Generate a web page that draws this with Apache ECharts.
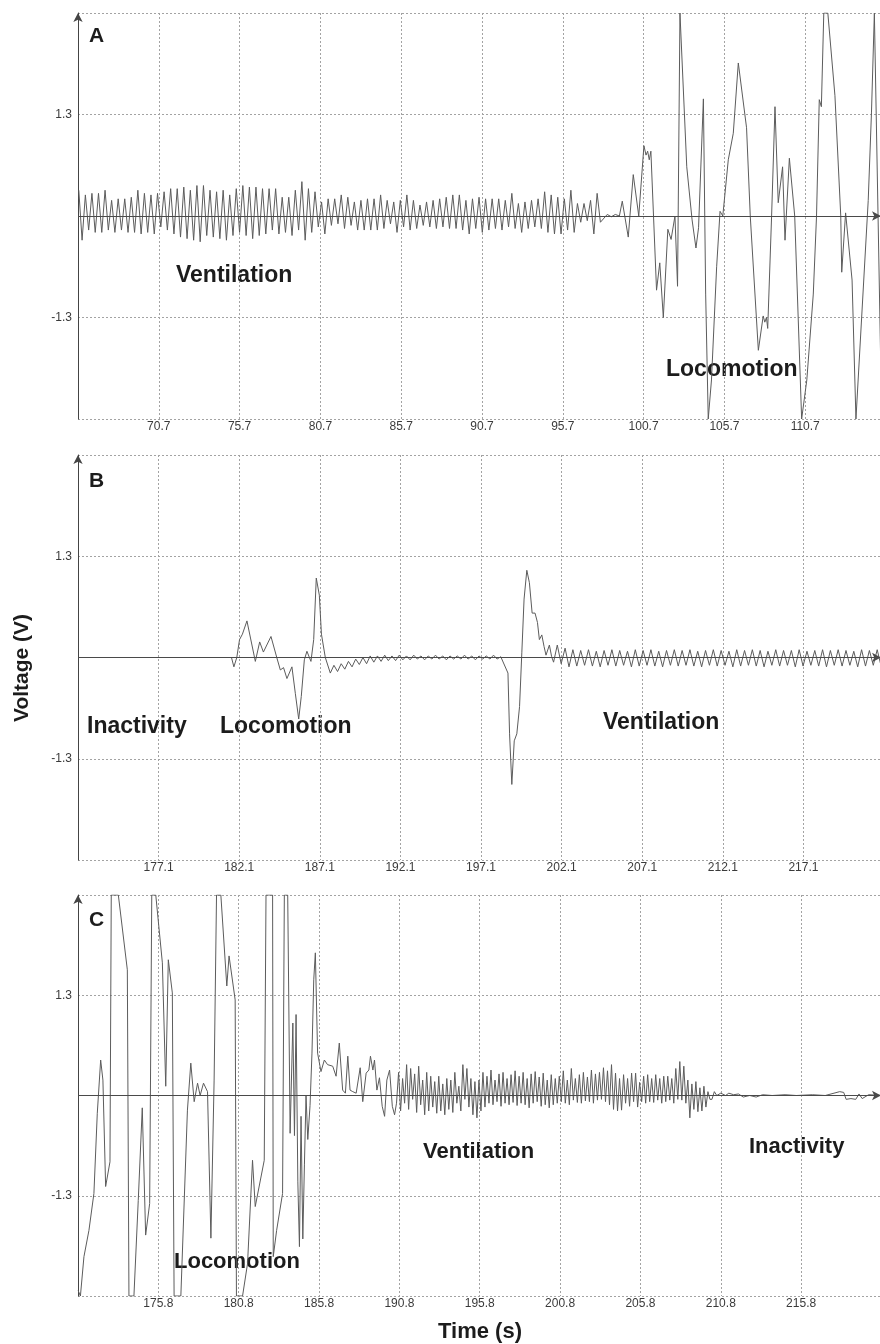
<!DOCTYPE html>
<html>
<head>
<meta charset="utf-8">
<title>Voltage traces</title>
<script src="https://cdn.jsdelivr.net/npm/echarts@6/dist/echarts.min.js"></script>
<style>
  html, body { margin: 0; padding: 0; background: #fff; }
  #chart { width: 880px; height: 1344px; }
</style>
</head>
<body>
<div id="chart"></div>
<script>
  // ---- panel A (65.7 s .. ) ----
  const aStart = 65.7, aSpan = 49.69
  const aVentT0 = 65.75, aVentStep = 0.203
  const aVentPeaks = [
    0.33, 0.27, 0.29, 0.29, 0.33, 0.20, 0.22, 0.22, 0.24, 0.33,
    0.29, 0.27, 0.29, 0.31, 0.35, 0.35, 0.37, 0.33, 0.39, 0.39,
    0.33, 0.31, 0.33, 0.27, 0.35, 0.39, 0.37, 0.37, 0.35, 0.35,
    0.35, 0.24, 0.24, 0.33, 0.44, 0.35, 0.31, 0.18, 0.22, 0.22,
    0.27, 0.24,
    0.18, 0.20, 0.22, 0.22, 0.27, 0.20, 0.18, 0.20, 0.27, 0.20,
    0.14, 0.18, 0.20, 0.22, 0.24, 0.27, 0.27, 0.20, 0.22, 0.24,
    0.22, 0.22, 0.22, 0.20, 0.29, 0.16, 0.18, 0.20, 0.22, 0.31,
    0.27, 0.24, 0.22, 0.33, 0.16, 0.16, 0.20, 0.29
  ]
  const aVentTroughs = [
    -0.31, -0.18, -0.21, -0.21, -0.18, -0.21, -0.18, -0.21, -0.21, -0.23,
    -0.21, -0.23, -0.14, -0.18, -0.23, -0.27, -0.29, -0.31, -0.33, -0.25,
    -0.27, -0.29, -0.31, -0.25, -0.21, -0.25, -0.29, -0.25, -0.23, -0.18,
    -0.23, -0.21, -0.25, -0.18, -0.31, -0.21, -0.14, -0.23, -0.12, -0.10,
    -0.16, -0.12,
    -0.18, -0.18, -0.18, -0.18, -0.16, -0.10, -0.21, -0.14, -0.18, -0.16,
    -0.12, -0.14, -0.16, -0.14, -0.16, -0.16, -0.18, -0.23, -0.16, -0.21,
    -0.18, -0.16, -0.18, -0.14, -0.16, -0.21, -0.16, -0.14, -0.16, -0.21,
    -0.23, -0.23, -0.18, -0.21, -0.08, -0.06, -0.23, -0.08
  ]
  const aLoco = [
    [98.45, 0.02], [98.7, -0.01], [98.95, 0.02], [99.2, 0.0],
    [99.38, 0.19], [99.75, -0.27], [100.06, 0.53], [100.4, 0.0], [100.72, 0.90],
    [100.85, 0.78], [100.95, 0.83], [101.05, 0.72], [101.15, 0.83], [101.5, -0.95],
    [101.7, -0.6], [101.92, -1.30], [102.2, -0.17], [102.4, -0.3], [102.64, 0.0],
    [102.8, -0.9], [102.95, 2.6], [103.37, 0.63], [103.7, -0.05], [103.94, -0.41],
    [104.1, -0.15], [104.4, 1.50], [104.54, -1.0], [104.7, -2.6], [104.9, -2.1],
    [105.22, -0.65], [105.43, 0.06], [105.6, 0.0], [105.94, 0.72], [106.25, 1.06],
    [106.56, 1.96], [107.07, 1.13], [107.3, 0.0], [107.8, -1.72], [108.1, -1.28],
    [108.2, -1.36], [108.3, -1.30], [108.38, -1.44], [108.62, 0.0], [108.83, 1.40],
    [109.03, 0.17], [109.3, 0.63], [109.45, -0.31], [109.72, 0.74], [110.05, 0.0],
    [110.48, -2.6], [110.8, -2.1], [111.2, -1.0], [111.4, 0.0], [111.57, 1.49],
    [111.7, 1.4], [111.85, 2.6], [112.1, 2.6], [112.54, 1.54], [112.9, 0.0],
    [112.96, -0.72], [113.2, 0.04], [113.6, -0.82], [113.84, -2.6], [113.95, -2.6],
    [114.6, 0.2], [114.8, 1.32], [114.98, 2.6], [115.4, -2.2]
  ]

  // ---- panel B (172.1 s .. ) ----
  const bStart = 172.1, bSpan = 49.81
  const bLoco = [
    [172.1, 0.0], [181.62, 0.0], [181.77, -0.12], [181.95, 0.0], [182.12, 0.23],
    [182.3, 0.3], [182.58, 0.47], [182.8, 0.25], [183.1, -0.05], [183.37, 0.2],
    [183.6, 0.07], [184.07, 0.27], [184.43, 0.0], [184.65, -0.16], [184.85, -0.13],
    [185.06, -0.27], [185.37, -0.12], [185.58, -0.46], [185.79, -0.79], [185.95, -0.5],
    [186.14, -0.03], [186.3, 0.08], [186.55, -0.05], [186.72, 0.23], [186.88, 1.02],
    [187.07, 0.8], [187.2, 0.3], [187.44, 0.0]
  ]
  const bRippleT0 = 187.75, bRippleStep = 0.225
  const bRipple = [
    -0.20, -0.10, -0.18, -0.08, -0.15, -0.05, -0.12, -0.02, -0.09, 0.0,
    -0.08, 0.02, -0.06, 0.02, -0.05, 0.03, -0.04, 0.02, -0.04, 0.03,
    -0.03, 0.02, -0.03, 0.03, -0.02, 0.02, -0.03, 0.02, -0.02, 0.03,
    -0.02, 0.02, -0.03, 0.02, -0.02, 0.02, -0.02, 0.03, -0.02, 0.02,
    -0.03, 0.02, -0.02, 0.02, -0.02, 0.03, -0.02, 0.01
  ]
  const bSpike = [
    [198.77, -0.2], [198.87, -0.98], [199.01, -1.63], [199.16, -1.07], [199.32, -0.98],
    [199.49, -0.63], [199.63, 0.06], [199.77, 0.75], [199.94, 1.12], [200.1, 0.96],
    [200.27, 0.57], [200.45, 0.57], [200.6, 0.45], [200.72, 0.23], [200.87, 0.29],
    [201.01, 0.14], [201.13, 0.03], [201.34, 0.16], [201.48, 0.01], [201.6, -0.06]
  ]
  const bVentT0 = 201.83, bVentStep = 0.242
  const bVentPeaks = [
    0.16, 0.12, 0.10, 0.09, 0.10, 0.08, 0.09, 0.10, 0.09, 0.08,
    0.10, 0.09, 0.10, 0.08, 0.09, 0.10, 0.09, 0.10, 0.08, 0.09,
    0.10, 0.09, 0.08, 0.10, 0.09, 0.10, 0.09, 0.08, 0.10, 0.09,
    0.09, 0.10, 0.08, 0.09, 0.10, 0.09, 0.10, 0.09, 0.08, 0.10,
    0.09, 0.10
  ]
  const bVentTroughs = [
    -0.08, -0.12, -0.11, -0.10, -0.11, -0.12, -0.10, -0.11, -0.10, -0.12,
    -0.11, -0.10, -0.11, -0.12, -0.10, -0.11, -0.10, -0.11, -0.12, -0.10,
    -0.11, -0.10, -0.12, -0.11, -0.10, -0.11, -0.12, -0.10, -0.11, -0.10,
    -0.12, -0.11, -0.10, -0.11, -0.12, -0.10, -0.11, -0.10, -0.12, -0.11,
    -0.10, -0.11
  ]

  // ---- panel C (170.8 s .. ) ----
  const cStart = 170.8, cSpan = 49.97
  const cLoco = [
    [170.81, -2.53], [170.95, -2.6], [171.17, -2.09], [171.48, -1.75], [171.79, -1.27],
    [172.0, -0.23], [172.21, 0.46], [172.35, 0.2], [172.52, -1.18], [172.79, -0.86],
    [172.87, 2.6], [173.31, 2.6], [173.87, 1.63], [173.97, -2.6], [174.28, -2.6],
    [174.55, -1.36], [174.8, -0.16], [175.01, -1.81], [175.26, -1.40], [175.39, 2.6],
    [175.64, 2.6], [176.05, 1.72], [176.26, 0.12], [176.42, 1.76], [176.67, 1.33],
    [176.78, -2.6], [177.2, -2.6], [177.61, -0.19], [177.82, 0.42], [178.03, -0.08],
    [178.24, 0.16], [178.4, 0.0], [178.61, 0.16], [178.86, 0.05], [179.07, -1.85],
    [179.27, 0.2], [179.42, 2.6], [179.69, 2.6], [180.06, 1.42], [180.2, 1.81],
    [180.58, 1.24], [180.66, -2.6], [181.04, -2.6], [181.35, -2.18], [181.66, -0.84],
    [181.83, -1.44], [182.39, -0.84], [182.5, 2.6], [182.91, 2.6], [182.95, -2.09],
    [183.16, -1.75], [183.53, -1.27], [183.64, 2.6], [183.85, 2.6], [184.0, -0.49],
    [184.17, 0.94], [184.27, -0.52], [184.37, 1.05], [184.48, -1.12], [184.58, -1.96],
    [184.68, -0.27], [184.79, -1.86], [184.89, -0.9], [184.99, 0.0], [185.1, -0.57],
    [185.24, -0.13], [185.36, 0.55], [185.47, 1.5], [185.57, 1.85], [185.71, 0.55],
    [185.92, 0.31], [186.13, 0.46], [186.33, 0.40], [186.44, 0.40], [186.65, 0.38],
    [186.86, 0.25], [187.06, 0.68], [187.27, 0.07], [187.44, 0.03], [187.59, 0.51],
    [187.73, 0.07], [187.9, 0.05], [188.11, 0.03], [188.36, 0.36], [188.52, -0.08],
    [188.73, 0.29], [188.9, 0.33], [189.0, 0.51], [189.15, 0.33], [189.25, 0.46],
    [189.4, 0.07], [189.56, 0.23], [189.73, -0.14], [189.88, -0.27], [190.02, 0.20],
    [190.19, 0.33], [190.36, -0.14], [190.5, -0.25], [190.62, -0.1]
  ]
  const cVentT0 = 190.75, cVentStep = 0.125
  const cVentPeaks = [
    0.30, 0.22, 0.40, 0.35, 0.28, 0.38, 0.20, 0.30, 0.25,
    0.18, 0.25, 0.15, 0.22, 0.20, 0.30, 0.12, 0.40, 0.35, 0.22, 0.18,
    0.20, 0.30, 0.25, 0.33, 0.20, 0.28, 0.30, 0.22, 0.27, 0.32,
    0.25, 0.30, 0.22, 0.28, 0.31, 0.24, 0.29, 0.20, 0.27, 0.22,
    0.25, 0.32, 0.20, 0.35, 0.22, 0.27, 0.30, 0.24, 0.33, 0.28,
    0.30, 0.36, 0.32, 0.40, 0.29, 0.22, 0.27, 0.22, 0.29, 0.29,
    0.17, 0.25, 0.27, 0.22, 0.27, 0.22, 0.25, 0.25, 0.22, 0.35,
    0.44, 0.38, 0.20, 0.15, 0.18, 0.10, 0.12, 0.05
  ]
  const cVentTroughs = [
    -0.20, -0.10, -0.18, -0.05, -0.22, -0.12, -0.25, -0.20, -0.15,
    -0.23, -0.20, -0.25, -0.18, -0.22, -0.10, -0.20, -0.05, -0.15, -0.25, -0.29,
    -0.20, -0.15, -0.10, -0.12, -0.08, -0.14, -0.10, -0.12, -0.09, -0.13,
    -0.10, -0.12, -0.16, -0.10, -0.08, -0.14, -0.12, -0.16, -0.12, -0.10,
    -0.08, -0.10, -0.12, -0.06, -0.09, -0.10, -0.07, -0.08, -0.10, -0.06,
    -0.05, -0.08, -0.12, -0.18, -0.20, -0.19, -0.10, -0.14, -0.08, -0.15,
    -0.08, -0.10, -0.08, -0.09, -0.06, -0.10, -0.08, -0.06, -0.10, -0.05,
    -0.06, -0.10, -0.29, -0.18, -0.21, -0.20, -0.15, -0.05
  ]
  const cRest = [
    [210.25, -0.05], [210.4, 0.05], [210.55, 0.0], [210.8, 0.03], [211.1, 0.0],
    [211.3, 0.03], [211.6, 0.01], [211.9, 0.02], [212.2, -0.02], [212.6, 0.0],
    [213.0, -0.02], [213.4, 0.01], [214.0, 0.0], [214.8, 0.01], [215.5, 0.0],
    [216.5, 0.01], [217.3, 0.0], [218.2, 0.05], [218.45, 0.04], [218.6, -0.05],
    [218.9, -0.04], [219.2, -0.05], [219.4, 0.02], [219.6, -0.04], [220.0, 0.01],
    [220.9, 0.0]
  ]

  // interleave peaks / troughs on their sampling grid
  function wave(t0, step, peaks, troughs) {
    const pts = []
    peaks.forEach((p, i) => {
      pts.push([t0 + 2 * i * step, p])
      if (i < troughs.length) pts.push([t0 + (2 * i + 1) * step, troughs[i]])
    })
    return pts
  }
  function series1(t0, step, values) {
    return values.map((v, i) => [t0 + i * step, v])
  }

  const panels = [
    {
      letter: 'A', start: aStart, span: aSpan, top: 13, height: 406,
      points: wave(aVentT0, aVentStep, aVentPeaks, aVentTroughs).concat(aLoco)
    },
    {
      letter: 'B', start: bStart, span: bSpan, top: 455, height: 405,
      points: bLoco.concat(series1(bRippleT0, bRippleStep, bRipple), bSpike,
        wave(bVentT0, bVentStep, bVentPeaks, bVentTroughs))
    },
    {
      letter: 'C', start: cStart, span: cSpan, top: 895, height: 401,
      points: cLoco.concat(wave(cVentT0, cVentStep, cVentPeaks, cVentTroughs), cRest)
    }
  ]

  const FONT = '"Liberation Sans", Arial, sans-serif'
  const gridLine = {show: true, lineStyle: {color: '#a3a3a3', width: 1, type: [2, 2]}}
  const grid = [], xAxis = [], yAxis = [], series = []

  panels.forEach((p, i) => {
    grid.push({left: 78, right: -1, top: p.top, height: p.height, outerBoundsMode: 'none'})
    xAxis.push({
      gridIndex: i,
      type: 'value',
      min: 0,
      max: p.span,
      interval: 5,
      axisLine: {show: false},
      axisTick: {show: false},
      splitLine: gridLine,
      axisLabel: {
        margin: 2,
        color: '#3a3a3a',
        fontSize: 12,
        fontFamily: FONT,
        showMinLabel: false,
        showMaxLabel: false,
        formatter: v => (v > p.span - 2 ? '' : (v + p.start).toFixed(1))
      }
    })
    yAxis.push({
      gridIndex: i,
      type: 'value',
      min: -2.6,
      max: 2.6,
      interval: 1.3,
      axisLine: {
        show: true,
        onZero: false,
        symbol: ['none', 'arrow'],
        symbolSize: [7, 9],
        lineStyle: {color: '#444', width: 1}
      },
      axisTick: {show: false},
      splitLine: gridLine,
      axisLabel: {
        margin: 6,
        color: '#3a3a3a',
        fontSize: 12,
        fontFamily: FONT,
        formatter: v => Math.abs(Math.abs(v) - 1.3) < 0.01 ? v.toFixed(1) : ''
      }
    })
    series.push({
      type: 'line',
      xAxisIndex: i,
      yAxisIndex: i,
      data: p.points.map(d => [d[0] - p.start, d[1]]),
      symbol: 'none',
      clip: true,
      lineStyle: {color: '#5c5c5c', width: 1},
      markLine: {
        silent: true,
        symbol: ['none', 'arrow'],
        symbolSize: [7, 9],
        label: {show: false},
        lineStyle: {color: '#4a4a4a', width: 1.2, type: 'solid'},
        data: [{yAxis: 0}]
      }
    })
  })

  function txt(x, y, text, size, extra) {
    return Object.assign({
      type: 'text',
      x: x,
      y: y,
      style: {
        text: text,
        font: 'bold ' + size + 'px ' + FONT,
        fill: '#1c1c1c',
        align: 'left',
        verticalAlign: 'middle'
      }
    }, extra || {})
  }

  const chart = echarts.init(document.getElementById('chart'))
  chart.setOption({
    animation: false,
    backgroundColor: '#fff',
    grid: grid,
    xAxis: xAxis,
    yAxis: yAxis,
    series: series,
    graphic: [
      txt(89, 36, 'A', 21),
      txt(89, 481, 'B', 21),
      txt(89, 920, 'C', 21),
      txt(176, 276, 'Ventilation', 23),
      txt(666, 370, 'Locomotion', 23),
      txt(87, 727, 'Inactivity', 23),
      txt(220, 727, 'Locomotion', 23),
      txt(603, 723, 'Ventilation', 23),
      txt(423, 1152, 'Ventilation', 22),
      txt(749, 1147, 'Inactivity', 22),
      txt(174, 1262, 'Locomotion', 22),
      {
        type: 'text',
        x: 22,
        y: 668,
        rotation: Math.PI / 2,
        style: {
          text: 'Voltage (V)',
          font: 'bold 21px ' + FONT,
          fill: '#1c1c1c',
          align: 'center',
          verticalAlign: 'middle'
        }
      },
      {
        type: 'text',
        x: 480,
        y: 1332,
        style: {
          text: 'Time (s)',
          font: 'bold 22px ' + FONT,
          fill: '#1c1c1c',
          align: 'center',
          verticalAlign: 'middle'
        }
      }
    ]
  })
</script>
</body>
</html>
